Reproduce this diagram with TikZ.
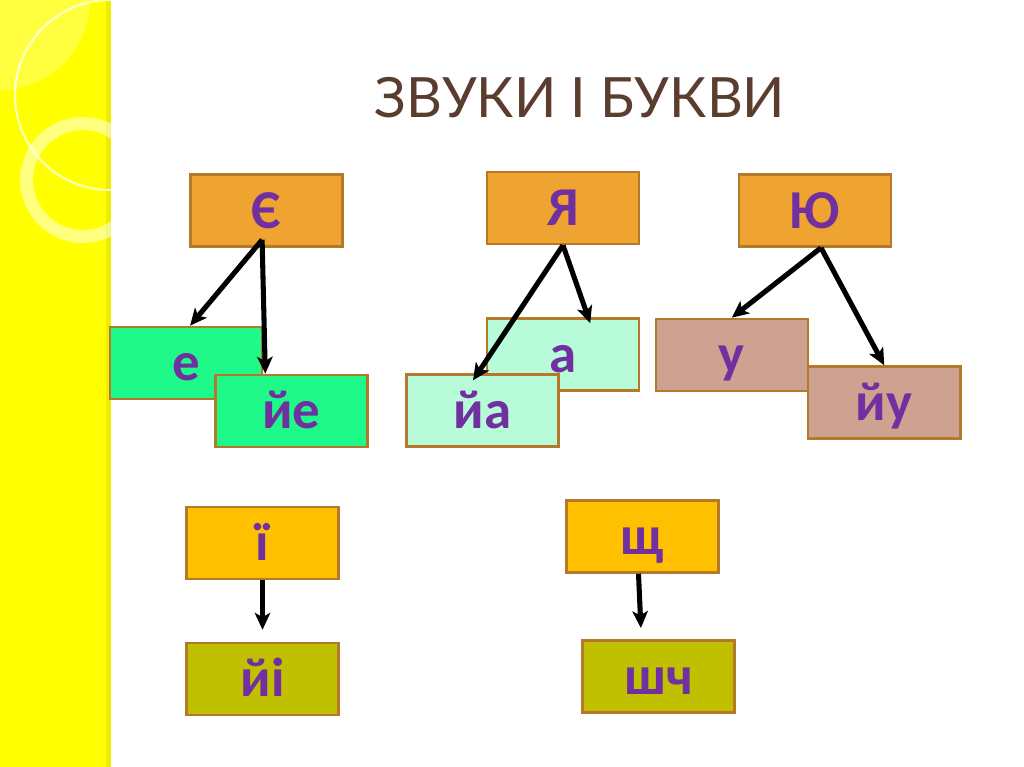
\documentclass[tikz,border=0pt]{standalone}
\usepackage{fontspec}
\setmainfont{Carlito}
\newfontfamily\titlefont{Lato}
\usetikzlibrary{arrows.meta,positioning}
\definecolor{bandyellow}{HTML}{FFFF00}
\definecolor{bandedge}{HTML}{EDED00}
\definecolor{boxline}{HTML}{B5792B}
\definecolor{toporange}{HTML}{EFA331}
\definecolor{brightgreen}{HTML}{1EF98A}
\definecolor{mint}{HTML}{B7FBD9}
\definecolor{rosy}{HTML}{CDA291}
\definecolor{gold}{HTML}{FFC000}
\definecolor{olive}{HTML}{C0C000}
\definecolor{letterpurple}{HTML}{7030A0}
\definecolor{titlebrown}{HTML}{5A3D2E}

\begin{document}
\begin{tikzpicture}[x=0.025cm,y=-0.025cm,on grid,
    letter/.style={draw=boxline,line width=1.8pt,minimum width=3.8cm,minimum height=1.8cm,
        inner sep=0pt,text height=25pt,text depth=0pt,text=letterpurple,
        font=\fontsize{39}{40}\selectfont\bfseries},
    arrow/.style={-{Stealth[length=12pt,width=11pt,inset=3pt]},line width=3.6pt,black}]

\useasboundingbox (0,0) rectangle (1024,767);
\fill[white] (0,0) rectangle (1024,767);

% yellow band with rings
\fill[bandyellow] (0,0) rectangle (111,767);
\fill[bandedge] (106,0) rectangle (111,767);
\begin{scope}
\clip (0,0) rectangle (111,767);
\fill[white,opacity=0.25] (0,0) circle [radius=90];
\draw[white,opacity=0.7,line width=1.6pt] (110,95) circle [radius=95];
\draw[white,opacity=0.5,line width=9.2pt] (83,180) circle [radius=56.5];
\end{scope}

\node[text=titlebrown,font=\titlefont\fontsize{39.5}{42}\selectfont] (title) at (580,98) {ЗВУКИ І БУКВИ};

\node[letter,fill=toporange]   (ye)                                       at (266.5,210.5) {Є};
\node[letter,fill=brightgreen] (e)    [below left=3.81cm and 2.01cm of ye]  {е};
\node[letter,fill=brightgreen] (je)   [below right=1.2cm and 2.63cm of e]   {йе};

\node[letter,fill=toporange]   (ya)                                       at (563,208) {Я};
\node[letter,fill=mint]        (a)    [below=3.66cm of ya]                  {а};
\node[letter,fill=mint]        (ja)   [below left=1.4cm and 2.01cm of a]    {йа};

\node[letter,fill=toporange]   (yu)                                       at (815,210.5) {Ю};
\node[letter,fill=rosy]        (u)    [below left=3.61cm and 2.08cm of yu]  {у};
\node[letter,fill=rosy]        (ju)   [below right=1.19cm and 3.81cm of u]  {йу};

\node[letter,fill=gold]        (yi)                                       at (262.5,543) {ї};
\node[letter,fill=olive]       (ji)   [below=3.4cm of yi]                   {йі};

\node[letter,fill=gold]        (shch)                                     at (642.5,536.5) {щ};
\node[letter,fill=olive]       (shch2) [below right=3.5cm and 0.4cm of shch] {шч};

\path[arrow]
    ([xshift=-0.11cm,yshift=0.2cm]ye.south) edge ([xshift=0.1cm]e.north)
                                            edge ([xshift=-0.65cm]je.north)
    (ya.south)              edge ([xshift=-0.24cm,yshift=-0.18cm]ja.north)
                            edge ([xshift=0.68cm,yshift=-0.15cm]a.north)
    ([xshift=0.15cm]yu.south) edge (u.north)
                              edge (ju.north)
    (yi.south)              edge ([yshift=0.3cm]ji.north)
    ([xshift=-0.1cm]shch.south) edge ([xshift=-0.44cm,yshift=0.28cm]shch2.north);
\end{tikzpicture}
\end{document}
